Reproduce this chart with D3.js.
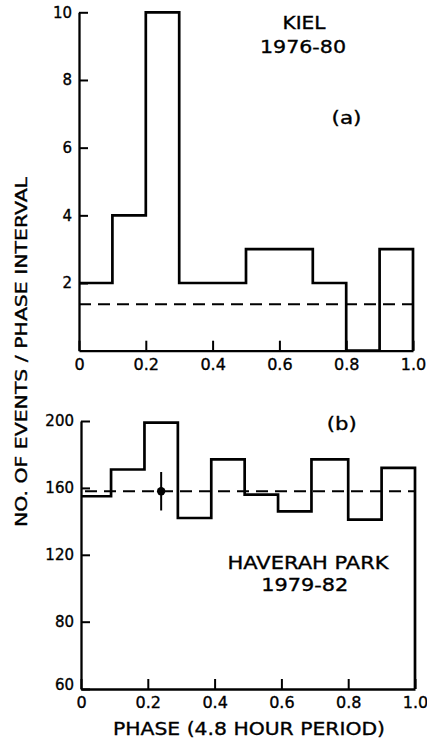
<!DOCTYPE html>
<html>
<head>
<meta charset="utf-8">
<script src="https://cdn.jsdelivr.net/npm/d3@7"></script>
<style>
  html, body { margin: 0; padding: 0; background: #fff; }
  svg { display: block; }
  text { font-family: "DejaVu Sans", sans-serif; fill: #000; stroke: #000; stroke-width: 0.35px; }
</style>
</head>
<body>
<script>
// Phase axis ticks shared by both panels
const phaseTicks = [0, 0.2, 0.4, 0.6, 0.8, 1.0];

// (a) Kiel 1976-80: events per phase interval
const kielEdges = [0, 0.1, 0.2, 0.3, 0.4, 0.5, 0.6, 0.7, 0.8, 0.9, 1.0];
const kielCounts = [2, 4, 10, 2, 2, 3, 3, 2, 0, 3];
const kielMean = 1.37;
const kielTicks = [2, 4, 6, 8, 10];

// (b) Haverah Park 1979-82: events per phase interval
const hpEdges = [0, 0.09, 0.19, 0.29, 0.39, 0.49, 0.59, 0.69, 0.80, 0.90, 1.0];
const hpCounts = [155, 171, 199, 142, 177, 156, 146, 177, 141, 172];
const hpMean = 158;
const hpTicks = [60, 80, 120, 160, 200];
// representative error bar
const hpErrPhase = [0.24];
const hpErrValue = [158];
const hpErrSize = [11.5];

const W = 427, H = 744;
const svg = d3.select("body").append("svg").attr("width", W).attr("height", H);

const fmtPhase = d => d === 0 ? "0" : d3.format(".1f")(d);

function stepPoints(edges, counts, base) {
  const pts = [];
  counts.forEach((c, i) => { pts.push([edges[i], c]); pts.push([edges[i + 1], c]); });
  pts.push([edges[edges.length - 1], base]);
  return pts;
}

function panel(opts) {
  const { x, y, edges, counts, mean, yTicks, base, dashStart } = opts;
  const g = svg.append("g");

  // histogram outline
  const line = d3.line().x(d => x(d[0])).y(d => y(d[1]));
  g.append("path")
    .attr("d", line(stepPoints(edges, counts, base)))
    .attr("fill", "none").attr("stroke", "#000")
    .attr("stroke-width", 2.7).attr("stroke-linejoin", "miter");

  // mean level
  g.append("line")
    .attr("x1", x(dashStart)).attr("x2", x(1))
    .attr("y1", y(mean)).attr("y2", y(mean))
    .attr("stroke", "#000").attr("stroke-width", 2)
    .attr("stroke-dasharray", "12,7");

  // axes, ticks pointing inward
  const xAxis = g.append("g")
    .attr("transform", `translate(0,${y(base)})`)
    .call(d3.axisBottom(x).tickValues(phaseTicks).tickFormat(fmtPhase)
      .tickSizeInner(-10).tickSizeOuter(0).tickPadding(8));
  const yAxis = g.append("g")
    .attr("transform", `translate(${x(0)},0)`)
    .call(d3.axisLeft(y).tickValues(yTicks).tickFormat(d3.format("d"))
      .tickSizeInner(-9).tickSizeOuter(0).tickPadding(7));

  [xAxis, yAxis].forEach(a => {
    a.select(".domain").attr("stroke", "#000").attr("stroke-width", 2.3);
    a.selectAll(".tick line").attr("stroke", "#000").attr("stroke-width", 2);
  });
  xAxis.selectAll("text").attr("font-size", 16).attr("font-family", "DejaVu Sans");
  yAxis.selectAll("text").attr("font-size", 15).attr("font-family", "DejaVu Sans");
  return { g, yAxis };
}

// Panel (a)
const xa = d3.scaleLinear().domain([0, 1]).range([79, 413]);
const ya = d3.scaleLinear().domain([0, 10]).range([350.7, 12.3]);
panel({ x: xa, y: ya, edges: kielEdges, counts: kielCounts, mean: kielMean,
        yTicks: kielTicks, base: 0, dashStart: 0 });

// Panel (b): suppressed-zero ordinate
const xb = d3.scaleLinear().domain([0, 1]).range([81, 415]);
const yb = d3.scaleLinear().domain([60, 80, 200]).range([689, 621.7, 421]);
const pb = panel({ x: xb, y: yb, edges: hpEdges, counts: hpCounts, mean: hpMean,
        yTicks: hpTicks, base: 60, dashStart: 0.012 });
pb.yAxis.selectAll(".tick").filter(d => d === 60).select("text").attr("dy", "0.05em");

// error bar with point
const eg = svg.append("g");
hpErrPhase.forEach((p, i) => {
  eg.append("line")
    .attr("x1", xb(p)).attr("x2", xb(p))
    .attr("y1", yb(hpErrValue[i] + hpErrSize[i])).attr("y2", yb(hpErrValue[i] - hpErrSize[i]))
    .attr("stroke", "#000").attr("stroke-width", 2);
  eg.append("circle")
    .attr("cx", xb(p)).attr("cy", yb(hpErrValue[i])).attr("r", 4.2)
    .attr("fill", "#000");
});

// annotations
function label(txt, cx, cy, size, len) {
  const t = svg.append("text").text(txt)
    .attr("x", cx).attr("y", cy).attr("text-anchor", "middle")
    .attr("dominant-baseline", "central").attr("font-size", size);
  if (len) t.attr("textLength", len).attr("lengthAdjust", "spacingAndGlyphs");
  return t;
}
label("KIEL", 304, 22, 18, 43);
label("1976-80", 303, 46.5, 18, 86);
label("(a)", 346.5, 117.5, 18, 30);
label("(b)", 341.7, 423.3, 18, 30);
label("HAVERAH PARK", 308, 562.5, 18, 161);
label("1979-82", 304.7, 584, 18, 87);
label("PHASE (4.8 HOUR PERIOD)", 249, 728.5, 18, 272);

// ordinate title
svg.append("text")
  .text("NO. OF EVENTS / PHASE INTERVAL")
  .attr("transform", "translate(21,352) rotate(-90)")
  .attr("text-anchor", "middle").attr("dominant-baseline", "central")
  .attr("font-size", 16.5)
  .attr("textLength", 350).attr("lengthAdjust", "spacingAndGlyphs");
</script>
</body>
</html>
